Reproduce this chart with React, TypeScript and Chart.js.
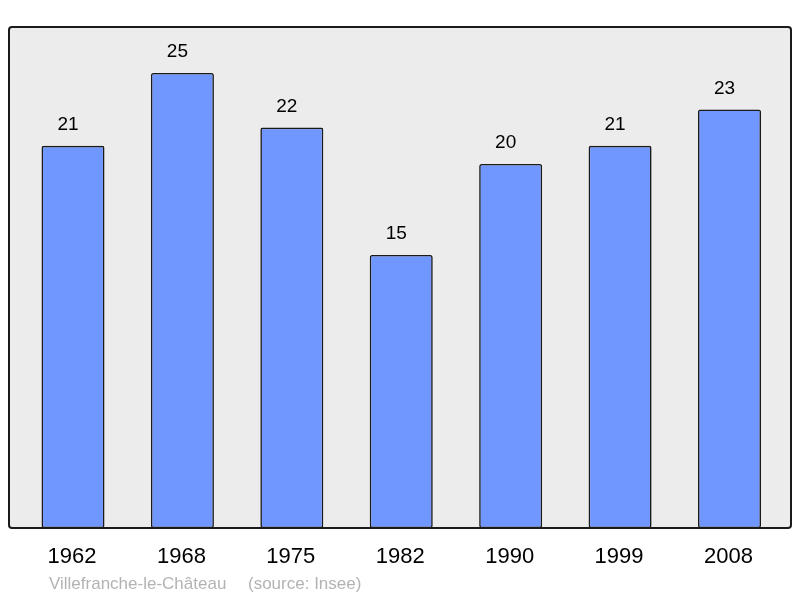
import React, { useEffect, useRef } from "react";
import { Chart, registerables } from "chart.js";

Chart.register(...registerables);

const years = ["1962", "1968", "1975", "1982", "1990", "1999", "2008"];
const population = [21, 25, 22, 15, 20, 21, 23];
const footerName = "Villefranche-le-Château";
const footerSource = "(source: Insee)";

function framePath(ctx: CanvasRenderingContext2D) {
  const x = 9, y = 27, w = 782, h = 501, r = 3;
  ctx.beginPath();
  ctx.moveTo(x + r, y);
  ctx.lineTo(x + w - r, y);
  ctx.quadraticCurveTo(x + w, y, x + w, y + r);
  ctx.lineTo(x + w, y + h - r);
  ctx.quadraticCurveTo(x + w, y + h, x + w - r, y + h);
  ctx.lineTo(x + r, y + h);
  ctx.quadraticCurveTo(x, y + h, x, y + h - r);
  ctx.lineTo(x, y + r);
  ctx.quadraticCurveTo(x, y, x + r, y);
  ctx.closePath();
}

const framePlugin = {
  id: "frame",
  beforeDraw(chart: any) {
    const { ctx } = chart;
    ctx.save();
    framePath(ctx);
    ctx.fillStyle = "#ececec";
    ctx.fill();
    ctx.restore();
  },
  afterDatasetsDraw(chart: any) {
    const { ctx } = chart;
    ctx.save();
    framePath(ctx);
    ctx.lineWidth = 2;
    ctx.strokeStyle = "#1a1a1a";
    ctx.stroke();

    const xs = chart.scales.x;
    const ys = chart.scales.y;
    ctx.textAlign = "center";
    ctx.textBaseline = "middle";
    ctx.fillStyle = "#000";
    ctx.font = "19px 'Liberation Sans', Arial, sans-serif";
    population.forEach((v, i) => {
      const px = xs.getPixelForValue(i);
      const py = ys.getPixelForValue(v);
      ctx.fillText(String(v), px - 5, py - 21);
    });
    ctx.font = "22px 'Liberation Sans', Arial, sans-serif";
    years.forEach((yr, i) => {
      ctx.fillText(yr, xs.getPixelForValue(i) - 1, 557);
    });
    ctx.textAlign = "left";
    ctx.fillStyle = "#b3b3b3";
    ctx.font = "17px 'Liberation Sans', Arial, sans-serif";
    ctx.fillText(footerName, 49, 584);
    ctx.fillText(footerSource, 248, 584);
    ctx.restore();
  },
};

export default function App() {
  const ref = useRef<HTMLCanvasElement>(null);
  useEffect(() => {
    if (!ref.current) return;
    const chart = new Chart(ref.current, {
      type: "bar",
      data: {
        labels: years,
        datasets: [
          {
            data: population,
            backgroundColor: "#7097ff",
            borderColor: "#1a1a1a",
            borderWidth: 1.6,
            borderRadius: 2,
            borderSkipped: false,
            barPercentage: 0.576,
            categoryPercentage: 1,
          },
        ],
      },
      options: {
        animation: false,
        responsive: false,
        maintainAspectRatio: false,
        layout: { padding: { left: 18.3, right: 800 - 784.2, top: 27.5, bottom: 70 } },
        plugins: { legend: { display: false }, tooltip: { enabled: false } },
        scales: {
          x: { display: false },
          y: { display: false, min: 0, max: 27.5 },
        },
      },
      plugins: [framePlugin],
    });
    return () => chart.destroy();
  }, []);
  return (
    <div style={{ position: "fixed", left: 0, top: 0, width: 800, height: 598, background: "#fff" }}>
      <canvas ref={ref} width={800} height={598} />
    </div>
  );
}
